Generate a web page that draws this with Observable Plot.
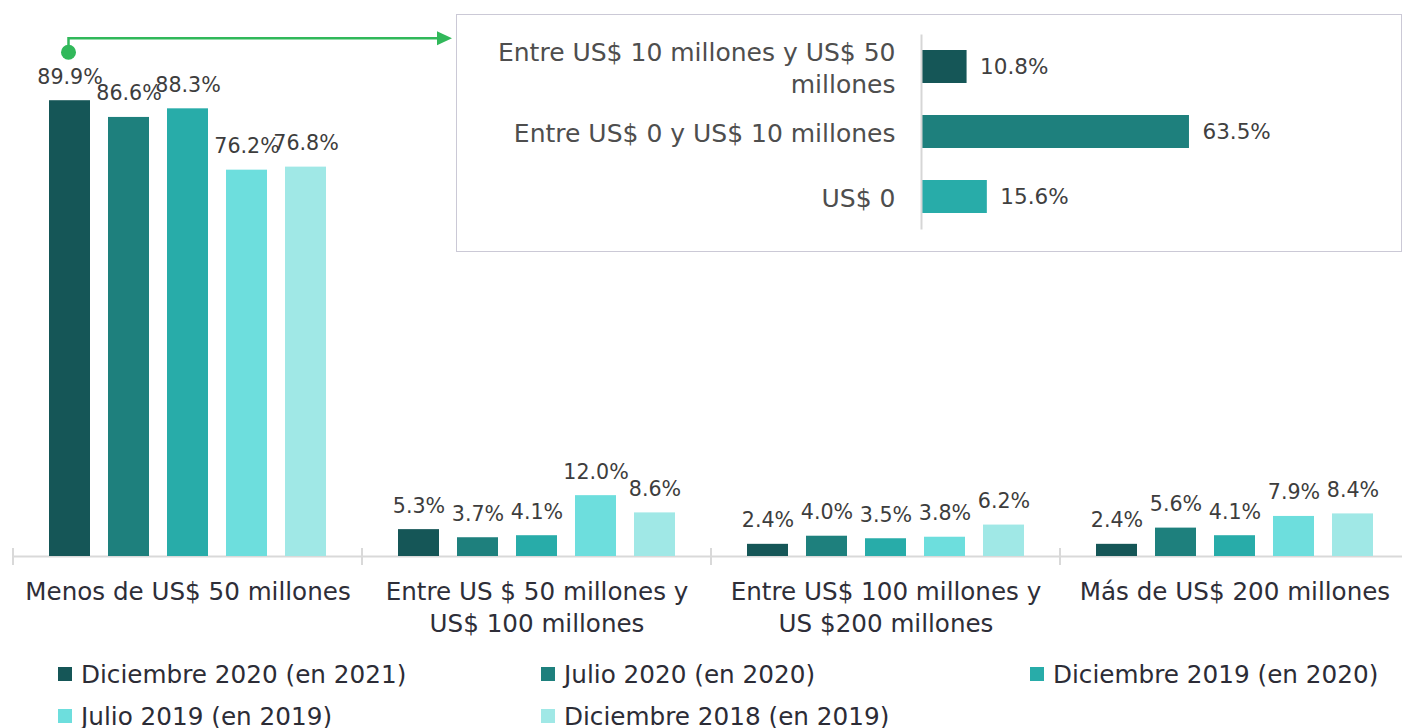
<!DOCTYPE html>
<html><head><meta charset="utf-8">
<script src="https://cdn.jsdelivr.net/npm/d3@7"></script>
<script src="https://cdn.jsdelivr.net/npm/@observablehq/plot@0.6"></script>
<style>
body{margin:0;background:#fff;overflow:hidden;font-family:"DejaVu Sans",sans-serif;}
#wrap{position:relative;width:1402px;height:728px;overflow:hidden;}
#main{position:absolute;left:0;top:0;width:1409px;}
#main svg{max-width:none;}
#inset{position:absolute;left:456px;top:14px;width:946px;height:238px;border:1.5px solid #cbc9d6;box-sizing:border-box;background:#fff;}
#inset svg{max-width:none;}
#legend{position:absolute;left:58px;top:653px;display:grid;grid-template-columns:483px 489px 360px;}
.item{display:flex;align-items:center;height:42px;font-size:24.7px;color:#2c2c36;white-space:nowrap;}
.sw{width:14px;height:14px;margin-right:9px;flex:none;}
</style></head><body>
<div id="wrap"><div id="main"></div><div id="inset"></div><div id="legend"></div></div>
<script>
// ---- data ----
const categories = [
  "Menos de US$ 50 millones",
  "Entre US $ 50 millones y\nUS$ 100 millones",
  "Entre US$ 100 millones y\nUS $200 millones",
  "Más de US$ 200 millones"
];
const series = [
  "Diciembre 2020 (en 2021)",
  "Julio 2020 (en 2020)",
  "Diciembre 2019 (en 2020)",
  "Julio 2019 (en 2019)",
  "Diciembre 2018 (en 2019)"
];
const colors = ["#155657", "#1e807d", "#28aca9", "#6ddedd", "#a0e8e6"];
const dic2020 = [89.9, 5.3, 2.4, 2.4];
const jul2020 = [86.6, 3.7, 4.0, 5.6];
const dic2019 = [88.3, 4.1, 3.5, 4.1];
const jul2019 = [76.2, 12.0, 3.8, 7.9];
const dic2018 = [76.8, 8.6, 6.2, 8.4];
const seriesValues = [dic2020, jul2020, dic2019, jul2019, dic2018];

const insetCategories = ["Entre US$ 10 millones y US$ 50\nmillones", "Entre US$ 0 y US$ 10 millones", "US$ 0"];
const insetValues = [10.8, 63.5, 15.6];
const insetColors = ["#155657", "#1e807d", "#28aca9"];

const FONT = "'DejaVu Sans', sans-serif";

// ---- main chart ----
const data = [];
series.forEach((s, i) => categories.forEach((c, j) => data.push({cat: c, series: s, value: seriesValues[i][j]})));

const main = Plot.plot({
  width: 1409, height: 650,
  marginLeft: 12, marginRight: 0, marginTop: 49, marginBottom: 94,
  style: {fontFamily: FONT, background: "transparent", overflow: "visible", maxWidth: "none"},
  fx: {domain: categories, padding: 0, label: null},
  x: {domain: series, paddingInner: 0.305, paddingOuter: 0.61, axis: null},
  y: {domain: [0, 100], axis: null},
  color: {domain: series, range: colors},
  marks: [
    Plot.axisFx({anchor: "bottom", tickSize: 0, tickPadding: 21, fontSize: 24.6, lineHeight: 1.3, fill: "#2e2e38", label: null}),
    Plot.ruleY([0], {stroke: "#d9d9d9", strokeWidth: 2}),
    Plot.barY(data, {fx: "cat", x: "series", y: "value", fill: "series"}),
    Plot.text(data, {fx: "cat", x: "series", y: "value", text: d => d.value.toFixed(1) + "%", lineAnchor: "bottom", dy: -17, fontSize: 20.6, fill: "#3d3d3d"})
  ]
});
document.getElementById("main").appendChild(main);

// category boundary ticks & green connector (positions from the chart's scales / drawn bars)
const fxS = main.scale("fx"), yS = main.scale("y");
const svg = d3.select(main);
const y0 = yS.apply(0);
const bounds = categories.map(c => fxS.apply(c));
bounds.push(fxS.apply(categories[categories.length - 1]) + fxS.bandwidth);
svg.append("g").selectAll("line").data(bounds).join("line")
  .attr("x1", d => d).attr("x2", d => d)
  .attr("y1", y0 - 8).attr("y2", y0 + 9)
  .attr("stroke", "#d9d9d9").attr("stroke-width", 2);

const svgBox = main.getBoundingClientRect();
const firstBar = main.querySelector('g[aria-label="bar"] rect');
const fb = firstBar.getBoundingClientRect();
const cx = fb.left - svgBox.left + fb.width / 2 - 1;
const cy = yS.apply(dic2020[0]) - 48;
const lineY = cy - 14;
const inset = document.getElementById("inset");
const tipX = inset.offsetLeft - 4;
const green = "#31b85a";
const ann = svg.append("g");
ann.append("path").attr("d", `M${cx},${cy} V${lineY} H${tipX - 12}`).attr("fill", "none").attr("stroke", green).attr("stroke-width", 2.5);
ann.append("path").attr("d", `M${tipX - 15},${lineY - 7} L${tipX},${lineY} L${tipX - 15},${lineY + 7} Z`).attr("fill", green);
ann.append("circle").attr("cx", cx).attr("cy", cy).attr("r", 7.5).attr("fill", green);

// ---- inset chart ----
const insetData = insetCategories.map((c, i) => ({cat: c, value: insetValues[i], color: insetColors[i]}));
const insetPlot = Plot.plot({
  width: 943, height: 235,
  marginLeft: 464, marginRight: 57, marginTop: 19.5, marginBottom: 20.5,
  style: {fontFamily: FONT, background: "transparent", overflow: "visible", maxWidth: "none"},
  y: {domain: insetCategories, paddingInner: 0.49, paddingOuter: 0.245, label: null},
  x: {domain: [0, 100], axis: null},
  marks: [
    Plot.axisY({tickSize: 0, tickPadding: 26, fontSize: 25, lineHeight: 1.25, fill: "#4e4e4e", label: null}),
    Plot.barX(insetData, {y: "cat", x: "value", fill: "color"}),
    Plot.ruleX([0], {stroke: "#d6d6d6", strokeWidth: 2}),
    Plot.text(insetData, {y: "cat", x: "value", text: d => d.value.toFixed(1) + "%", textAnchor: "start", dx: 13, fontSize: 21.5, fill: "#404040"})
  ]
});
inset.appendChild(insetPlot);

// ---- legend ----
const legend = d3.select("#legend");
series.forEach((s, i) => {
  const it = legend.append("div").attr("class", "item");
  it.append("div").attr("class", "sw").style("background", colors[i]);
  it.append("span").text(s);
});
</script>
</body></html>
